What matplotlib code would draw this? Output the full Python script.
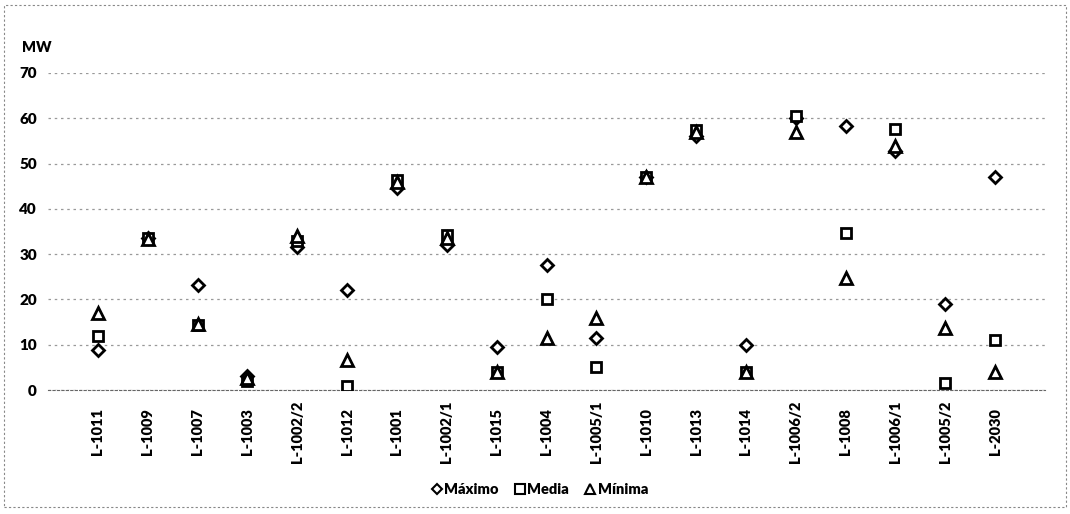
import matplotlib
matplotlib.use("Agg")
import matplotlib.pyplot as plt
from matplotlib.lines import Line2D
from matplotlib.patches import Rectangle

categories = ["L-1011", "L-1009", "L-1007", "L-1003", "L-1002/2", "L-1012", "L-1001",
              "L-1002/1", "L-1015", "L-1004", "L-1005/1", "L-1010", "L-1013", "L-1014",
              "L-1006/2", "L-1008", "L-1006/1", "L-1005/2", "L-2030"]
maximo = [8.8, 33.5, 23.1, 3.0, 31.5, 22.1, 44.6, 32.0, 9.6, 27.6, 11.4, 47.0, 56.0, 9.9,
          60.0, 58.2, 52.7, 18.9, 47.1]
media = [11.9, 33.6, 14.4, 2.0, 33.0, 0.8, 46.4, 34.3, 4.0, 20.0, 5.0, 47.0, 57.5, 4.0,
         60.4, 34.6, 57.6, 1.6, 11.0]
minima = [17.0, 33.3, 14.6, 2.6, 33.9, 6.6, 46.0, 33.5, 4.0, 11.4, 15.8, 47.0, 57.0, 4.0,
          56.9, 24.7, 53.8, 13.6, 4.0]
yticks = [0, 10, 20, 30, 40, 50, 60, 70]

FONT = ["Lato", "DejaVu Sans"]

fig = plt.figure(figsize=(10.7, 5.14), dpi=100)
ax = fig.add_axes([48 / 1070, 1 - 390 / 514, (1045 - 48) / 1070, (390 - 73) / 514])

x = list(range(len(categories)))
mk = dict(linestyle="none", markerfacecolor="white", markeredgecolor="black",
          markeredgewidth=2.0, zorder=3)
ax.plot(x, maximo, marker="D", markersize=6.2, label="Máximo", **mk)
ax.plot(x, media, marker="s", markersize=7.3, label="Media", **mk)
ax.plot(x, minima, marker="^", markersize=8.2, label="Mínima", **mk)

ax.set_xlim(-1, len(categories))
ax.set_ylim(0, 70)
ax.set_yticks(yticks)
ax.set_yticklabels([str(v) for v in yticks], fontsize=11, fontweight="heavy", family=FONT)
ax.set_xticks(x)
ax.set_xticklabels(categories, rotation=90, fontsize=10.5, fontweight="heavy", family=FONT,
                   va="center")
ax.tick_params(axis="x", length=0, pad=30)
ax.tick_params(axis="y", length=0, pad=8)
for s in ["top", "right", "left"]:
    ax.spines[s].set_visible(False)
ax.spines["bottom"].set_color("#666666")
ax.spines["bottom"].set_linestyle((0, (2, 2)))
ax.grid(axis="y", color="#999999", linestyle=(0, (2, 3)), linewidth=0.9)
ax.set_axisbelow(True)

fig.text(22 / 1070, 1 - 47 / 514, "MW", fontsize=10.5, fontweight="heavy",
         family=FONT, va="center", ha="left")

handles = [Line2D([], [], marker="D", markersize=5.5, **mk),
           Line2D([], [], marker="s", markersize=6.5, **mk),
           Line2D([], [], marker="^", markersize=6.5, **mk)]
for h in handles:
    h.set_markeredgewidth(1.5)
leg = fig.legend(handles, ["Máximo", "Media", "Mínima"], loc="center",
                 bbox_to_anchor=(540 / 1070, 1 - 490 / 514), ncol=3, frameon=False,
                 handlelength=0.7, handletextpad=0.15, columnspacing=1.1,
                 prop={"family": FONT, "weight": "heavy", "size": 10.5})

fig.patches.append(Rectangle((4 / 1070, 1 - 507 / 514), 1062 / 1070, 502 / 514,
                             transform=fig.transFigure, fill=False,
                             edgecolor="#888888", linewidth=0.8, linestyle=(0, (2, 2))))

fig.savefig("out.png", dpi=100)
